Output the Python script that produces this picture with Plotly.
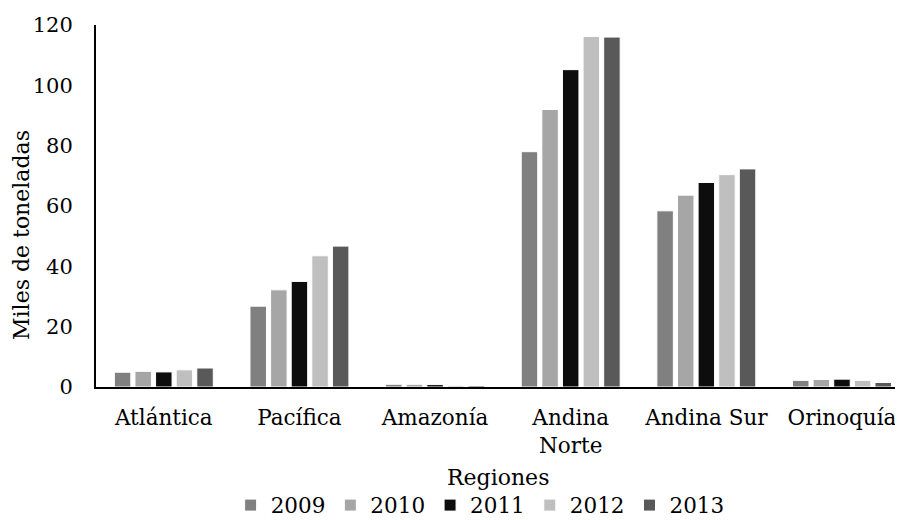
import plotly.graph_objects as go

regiones = ["Atlántica", "Pacífica", "Amazonía", "Andina<br>Norte", "Andina Sur", "Orinoquía"]
anios = ["2009", "2010", "2011", "2012", "2013"]
v2009 = [4.9, 26.8, 0.9, 78.0, 58.4, 2.2]
v2010 = [5.2, 32.2, 0.9, 92.0, 63.6, 2.5]
v2011 = [5.0, 35.0, 0.8, 105.2, 67.8, 2.6]
v2012 = [5.7, 43.5, 0.55, 116.2, 70.4, 2.2]
v2013 = [6.3, 46.7, 0.5, 116.0, 72.3, 1.5]
series = [v2009, v2010, v2011, v2012, v2013]
colores = ["#808080", "#a6a6a6", "#0d0d0d", "#bfbfbf", "#595959"]

font_fam = "DejaVu Serif"

fig = go.Figure()
for anio, vals, col in zip(anios, series, colores):
    fig.add_trace(go.Bar(
        name=anio, x=regiones, y=vals,
        marker=dict(color=col, line=dict(color="white", width=1)),
    ))

fig.update_layout(
    width=903, height=520,
    paper_bgcolor="white", plot_bgcolor="white",
    margin=dict(l=88, r=8, t=17, b=141),
    barmode="group", bargap=0.24, bargroupgap=0.2,
    font=dict(family=font_fam, size=22, color="black"),
    showlegend=True,
    legend=dict(orientation="h", x=0.476, xanchor="center", yref="container",
                y=0.044, yanchor="middle",
                font=dict(size=21.5), itemwidth=30, traceorder="normal"),
    annotations=[
        dict(text="Miles de toneladas", textangle=-90, showarrow=False,
             xref="paper", yref="paper", x=-0.0917, y=0.42,
             xanchor="center", yanchor="middle", font=dict(size=22)),
        dict(text="Regiones", showarrow=False,
             xref="paper", yref="paper", x=0.498, y=-0.249,
             xanchor="center", yanchor="middle", font=dict(size=22)),
    ],
)
fig.update_xaxes(
    showline=True, linecolor="black", linewidth=2, ticks="",
    range=[-0.5, 5.45], automargin=False,
    tickfont=dict(size=21.5), showgrid=False, ticklabelstandoff=10,
)
fig.update_yaxes(
    range=[0, 120], dtick=20, showline=True, linecolor="black", linewidth=2,
    ticks="", showgrid=False, zeroline=False, automargin=False,
    tickfont=dict(size=21), ticklabelstandoff=17,
)

fig.write_html("out.html")
